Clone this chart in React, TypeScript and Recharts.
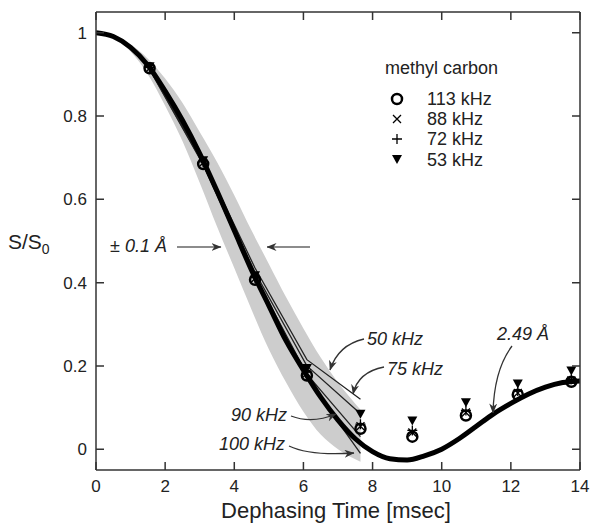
import React from 'react';
import { ComposedChart, Line, Area, Scatter, XAxis, YAxis } from 'recharts';

const FONT = '"Liberation Sans", Arial, Helvetica, sans-serif';

// simulated REDOR curve for 2.49 A (thick line)
const curveT = [0, 0.5, 1, 1.5, 2, 2.5, 3, 3.5, 4, 4.5, 5, 5.5, 6, 6.5, 7, 7.5, 8, 8.5, 9, 9.5, 10, 10.5, 11, 11.5, 12, 12.5, 13, 13.5, 14];
const curveS = [1, 0.991, 0.965, 0.922, 0.86, 0.79, 0.71, 0.62, 0.525, 0.43, 0.345, 0.26, 0.19, 0.125, 0.07, 0.025, -0.006, -0.023, -0.026, -0.016, 0.0, 0.025, 0.055, 0.085, 0.11, 0.132, 0.149, 0.16, 0.164];

// +/- 0.1 A band
const bandT = [0, 0.5, 1, 1.5, 2, 2.5, 3, 3.5, 4, 4.5, 5, 5.5, 6, 6.5, 7, 7.65];
const bandLow = [1, 0.988, 0.955, 0.9, 0.825, 0.74, 0.64, 0.535, 0.435, 0.335, 0.24, 0.16, 0.09, 0.035, 0.0, -0.03];
const bandHigh = [1, 0.992, 0.972, 0.938, 0.89, 0.832, 0.762, 0.69, 0.61, 0.525, 0.445, 0.365, 0.29, 0.22, 0.16, 0.095];

// experimental points, methyl carbon
const expT = [1.55, 3.1, 4.6, 6.1, 7.65, 9.15, 10.7, 12.2, 13.75];
const s113 = [0.915, 0.685, 0.407, 0.177, 0.049, 0.03, 0.081, 0.131, 0.162];
const s88 = [0.915, 0.688, 0.41, 0.182, 0.055, 0.04, 0.088, 0.135, 0.165];
const s72 = [0.917, 0.69, 0.412, 0.185, 0.06, 0.045, 0.093, 0.14, 0.168];
const s53 = [0.92, 0.694, 0.418, 0.195, 0.085, 0.069, 0.113, 0.158, 0.189];

// finite pulse simulations
const simT = [1.55, 3.1, 4.6, 6.1, 7.65];
const sim50 = [0.915, 0.695, 0.435, 0.215, 0.12];
const sim75 = [0.915, 0.69, 0.425, 0.2, 0.085];
const sim90 = [0.913, 0.685, 0.415, 0.18, 0.03];
const sim100 = [0.912, 0.683, 0.41, 0.17, -0.01];

const xTicks = [0, 2, 4, 6, 8, 10, 12, 14];
const yTicks = [0, 0.2, 0.4, 0.6, 0.8, 1];
const xDomain = [0, 14];
const yDomain = [-0.05, 1.05];

const rows = (t: number[], s: number[]) => t.map((v, i) => ({ t: v, s: s[i] }));

const curveRows = rows(curveT, curveS);
const bandRows = bandT.map((v, i) => ({ t: v, band: [bandLow[i], bandHigh[i]] }));
const simSets = [sim50, sim75, sim90, sim100].map((s) => rows(simT, s));

// plot box (chart margins + axis sizes below)
const PL = 96, PR = 580, PT = 12, PB = 470;
const px = (t: number) => PL + ((t - xDomain[0]) / (xDomain[1] - xDomain[0])) * (PR - PL);
const py = (s: number) => PT + ((yDomain[1] - s) / (yDomain[1] - yDomain[0])) * (PB - PT);
const TICK = 8;

const Circle = (p: any) => <circle cx={p.cx} cy={p.cy} r={5} fill="none" stroke="#000" strokeWidth={2.5} />;
const Cross = (p: any) => (
    <path d={`M${p.cx - 4},${p.cy - 4}L${p.cx + 4},${p.cy + 4}M${p.cx - 4},${p.cy + 4}L${p.cx + 4},${p.cy - 4}`} stroke="#000" strokeWidth={1.3} />
);
const Plus = (p: any) => (
    <path d={`M${p.cx - 5},${p.cy}L${p.cx + 5},${p.cy}M${p.cx},${p.cy - 5}L${p.cx},${p.cy + 5}`} stroke="#000" strokeWidth={1.3} />
);
const TriDown = (p: any) => (
    <path d={`M${p.cx - 5},${p.cy - 4}L${p.cx + 5},${p.cy - 4}L${p.cx},${p.cy + 5}Z`} fill="#000" />
);

const axisStyle = { stroke: '#333', strokeWidth: 1.5 };
const tickStyle = { fill: '#222', fontSize: 17, fontFamily: FONT };

const Annotations = () => (
    <svg width={591} height={523} style={{ position: 'absolute', left: 0, top: 0, pointerEvents: 'none' }} fontFamily={FONT}>
        <defs>
            <marker id="ah" viewBox="0 0 10 8" refX="9.5" refY="4" markerWidth="10" markerHeight="8" orient="auto" markerUnits="userSpaceOnUse">
                <path d="M0,0 L10,4 L0,8 L3,4 Z" fill="#333" />
            </marker>
        </defs>
        {/* inward ticks on all four sides */}
        <g stroke="#333" strokeWidth={1.5}>
            {yTicks.map((v) => (
                <path key={`y${v}`} d={`M${PL},${py(v)}h${TICK}M${PR},${py(v)}h${-TICK}`} />
            ))}
            {xTicks.map((v) => (
                <path key={`x${v}`} d={`M${px(v)},${PB}v${-TICK}M${px(v)},${PT}v${TICK}`} />
            ))}
        </g>
        <g stroke="#333" strokeWidth={1.3} fill="none" markerEnd="url(#ah)">
            <path d="M177,247 L221,247" stroke="#666" />
            <path d="M310,247 L267,247" stroke="#666" />
            <path d="M364,339 Q338,345 330,370" />
            <path d="M384,367 Q358,372 353,394" />
            <path d="M291,416 Q312,424 336,414" />
            <path d="M289,446 Q310,456 354,453" />
            <path d="M512,346 Q494,370 493,413" />
        </g>
        <g fontStyle="italic" fontSize={18} fill="#222">
            <text x={110} y={252}>± 0.1 Å</text>
            <text x={367} y={345}>50 kHz</text>
            <text x={387} y={375}>75 kHz</text>
            <text x={287} y={421} textAnchor="end">90 kHz</text>
            <text x={285} y={450} textAnchor="end">100 kHz</text>
            <text x={497} y={340}>2.49 Å</text>
        </g>
        <text x={8} y={249} fontSize={21} fill="#222">
            S/S<tspan fontSize={14} dy={5}>0</tspan>
        </text>
        <text x={336} y={518} fontSize={22} fill="#222" textAnchor="middle">Dephasing Time [msec]</text>
        <g fontSize={18} fill="#222">
            <text x={385} y={74}>methyl carbon</text>
            <text x={427} y={105}>113 kHz</text>
            <text x={427} y={125}>88 kHz</text>
            <text x={427} y={145}>72 kHz</text>
            <text x={427} y={166}>53 kHz</text>
        </g>
        <Circle cx={397} cy={99} />
        <Cross cx={397} cy={119} />
        <Plus cx={397} cy={139} />
        <TriDown cx={397} cy={159} />
    </svg>
);

export default function App() {
    return (
        <div style={{ position: 'absolute', left: 0, top: 0, width: 591, height: 523, background: '#fff' }}>
            <ComposedChart width={591} height={523} margin={{ top: 11, right: 10, bottom: 0, left: 0 }}>
                <XAxis
                    dataKey="t"
                    type="number"
                    domain={xDomain}
                    ticks={xTicks}
                    allowDataOverflow
                    height={53}
                    axisLine={axisStyle}
                    tickLine={false}
                    tickSize={0}
                    tickMargin={10}
                    tick={tickStyle}
                />
                <XAxis
                    xAxisId="top"
                    dataKey="t"
                    orientation="top"
                    type="number"
                    domain={xDomain}
                    ticks={xTicks}
                    allowDataOverflow
                    height={1}
                    axisLine={axisStyle}
                    tickLine={false}
                    tick={false}
                />
                <YAxis
                    type="number"
                    domain={yDomain}
                    ticks={yTicks}
                    allowDataOverflow
                    width={96}
                    axisLine={axisStyle}
                    tickLine={false}
                    tickSize={0}
                    tickMargin={9}
                    tick={tickStyle}
                />
                <YAxis
                    yAxisId="right"
                    orientation="right"
                    type="number"
                    domain={yDomain}
                    ticks={yTicks}
                    allowDataOverflow
                    width={1}
                    axisLine={axisStyle}
                    tickLine={false}
                    tick={false}
                />
                <Area data={bandRows} dataKey="band" type="monotone" fill="#cdcdcd" fillOpacity={1} stroke="none" dot={false} activeDot={false} isAnimationActive={false} />
                {simSets.map((d, i) => (
                    <Line key={i} data={d} dataKey="s" type="linear" stroke="#222" strokeWidth={1.3} dot={false} activeDot={false} isAnimationActive={false} />
                ))}
                <Line data={curveRows} dataKey="s" type="monotone" stroke="#000" strokeWidth={5} dot={false} activeDot={false} isAnimationActive={false} />
                {/* invisible series so the top and right frame axes are drawn */}
                <Line xAxisId="top" yAxisId="right" data={curveRows} dataKey="s" stroke="transparent" dot={false} activeDot={false} isAnimationActive={false} />
                <Scatter data={rows(expT, s53)} dataKey="s" shape={TriDown} isAnimationActive={false} />
                <Scatter data={rows(expT, s72)} dataKey="s" shape={Plus} isAnimationActive={false} />
                <Scatter data={rows(expT, s88)} dataKey="s" shape={Cross} isAnimationActive={false} />
                <Scatter data={rows(expT, s113)} dataKey="s" shape={Circle} isAnimationActive={false} />
            </ComposedChart>
            <Annotations />
        </div>
    );
}
